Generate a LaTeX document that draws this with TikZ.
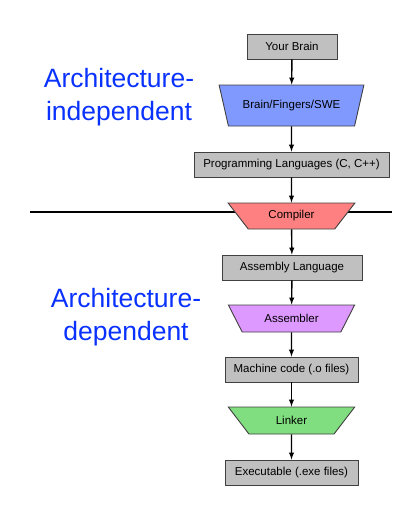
\documentclass[tikz,border=0pt]{standalone}
\usepackage{fontspec}
\setmainfont{Liberation Sans}
\usetikzlibrary{shapes.geometric}

\definecolor{archblue}{RGB}{10,50,255}
\definecolor{stepgray}{RGB}{192,192,192}
\definecolor{humanblue}{RGB}{128,153,255}
\definecolor{compred}{RGB}{255,128,128}
\definecolor{asmpurple}{RGB}{221,153,255}
\definecolor{linkgreen}{RGB}{128,221,128}

\begin{document}
\begin{tikzpicture}[x=1pt,y=-1pt,
  filebox/.style={draw=black!75,line width=0.9pt,fill=stepgray,minimum height=25pt,inner sep=0pt,font=\fontsize{11.5}{13}\selectfont},
  tool/.style={trapezium,shape border rotate=180,trapezium stretches=true,draw=black!75,line width=0.9pt,inner sep=0pt,font=\fontsize{11.5}{13}\selectfont},
  flow/.style={->,>=latex,line width=1.4pt},
  archlabel/.style={text=archblue,align=center,font=\fontsize{26.5}{33}\selectfont}]

  \useasboundingbox (0,0) rectangle (400,507);

  % Dividing line
  \draw[line width=1.8pt] (30,211.7) -- (392,211.7);

  % Architecture-independent part
  \node[filebox,minimum width=90pt] (brain) at (292,46.5) {Your Brain};
  \node[tool,fill=humanblue,minimum width=145pt,minimum height=41pt,trapezium angle=56] (fingers) at (291.5,105.5) {Brain/Fingers/SWE};
  \node[filebox,minimum width=195pt] (lang) at (291.5,164.5) {Programming Languages (C, C++)};

  % Compiler sits on the line
  \node[tool,fill=compred,minimum width=127pt,minimum height=26pt,trapezium angle=45] (compiler) at (291.5,216) {Compiler};

  % Architecture-dependent part
  \node[filebox,minimum width=140pt] (asm) at (292,267.5) {Assembly Language};
  \node[tool,fill=asmpurple,minimum width=127pt,minimum height=27pt,trapezium angle=48] (assembler) at (291.5,318.5) {Assembler};
  \node[filebox,minimum width=133pt] (mach) at (291.5,369.5) {Machine code (.o files)};
  \node[tool,fill=linkgreen,minimum width=127pt,minimum height=27pt,trapezium angle=48] (linker) at (291.5,420.5) {Linker};
  \node[filebox,minimum width=133pt] (exe) at (291.5,472.5) {Executable (.exe files)};

  % Arrows
  \draw[flow] (brain) -- (fingers);
  \draw[flow] (fingers) -- (lang);
  \draw[flow] (lang) -- (compiler);
  \draw[flow] (compiler) -- (asm);
  \draw[flow] (asm) -- (assembler);
  \draw[flow] (assembler) -- (mach);
  \draw[flow] (mach) -- (linker);
  \draw[flow] (linker) -- (exe);

  % Labels
  \node[archlabel,anchor=base] (indep) at (119,120) {Architecture-\\independent};
  \node[archlabel,anchor=base] (dep) at (126,340) {Architecture-\\dependent};

\end{tikzpicture}
\end{document}
